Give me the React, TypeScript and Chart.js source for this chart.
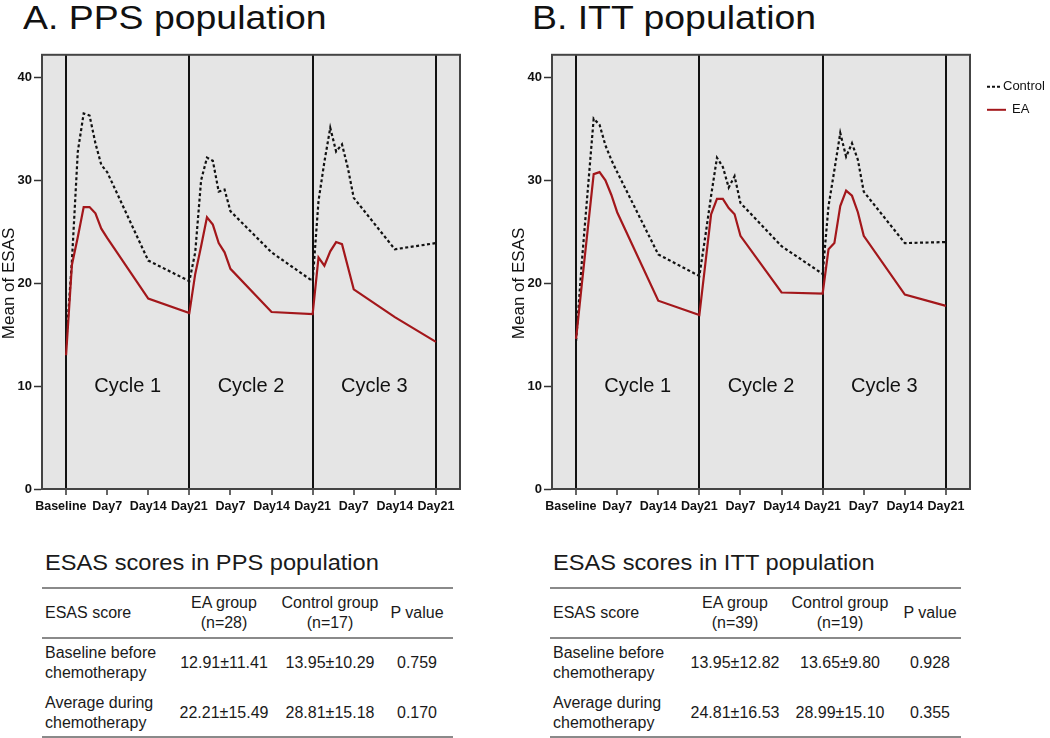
import React, { useEffect, useRef } from "react";
import { Chart, registerables } from "chart.js";
Chart.register(...registerables);

// ---------- data ----------
const days = [0, 1, 2, 3, 4, 5, 6, 7, 14, 21, 22, 23, 24, 25, 26, 27, 28, 35, 42, 43, 44, 45, 46, 47, 48, 49, 56, 63];
const xTickValues = [0, 7, 14, 21, 28, 35, 42, 49, 56, 63];
const xTickLabels = ["Baseline", "Day7", "Day14", "Day21", "Day7", "Day14", "Day21", "Day7", "Day14", "Day21"];
const yTickValues = [0, 10, 20, 30, 40];
const cycleBoundaries = [0, 21, 42, 63];
const cycleLabels = ["Cycle 1", "Cycle 2", "Cycle 3"];
const cycleCenters = [10.5, 31.5, 52.5];
const seriesNames = ["Control", "EA"];
const yTitle = "Mean of ESAS";

const ppsControl = [14.0, 22.2, 32.8, 36.5, 36.3, 33.6, 31.5, 30.8, 22.2, 20.2, 23.0, 30.0, 32.2, 31.9, 28.9, 29.1, 27.0, 23.0, 20.2, 28.0, 31.8, 35.1, 32.8, 33.5, 31.2, 28.3, 23.3, 23.9];
const ppsEA = [13.0, 21.8, 24.5, 27.4, 27.4, 26.8, 25.3, 24.4, 18.5, 17.1, 20.9, 23.6, 26.4, 25.7, 23.9, 23.0, 21.4, 17.2, 17.0, 22.5, 21.7, 23.1, 24.0, 23.8, 21.6, 19.4, 16.7, 14.3];
const ittControl = [14.4, 22.2, 29.1, 36.0, 35.4, 33.4, 32.0, 30.8, 22.8, 20.7, 24.5, 28.5, 32.2, 31.3, 29.3, 30.4, 27.8, 23.6, 20.9, 27.5, 31.0, 34.6, 32.3, 33.6, 32.0, 28.9, 23.9, 24.0];
const ittEA = [14.6, 20.0, 25.3, 30.6, 30.8, 30.0, 28.6, 26.9, 18.3, 16.9, 21.8, 26.7, 28.2, 28.2, 27.3, 26.7, 24.6, 19.1, 19.0, 23.3, 23.9, 27.5, 29.0, 28.5, 26.9, 24.6, 18.9, 17.8];

const tableHeader = ["ESAS score", "EA group", "Control group", "P value"];
const ppsN = ["(n=28)", "(n=17)"];
const ittN = ["(n=39)", "(n=19)"];
const rowLabels = [["Baseline before", "chemotherapy"], ["Average during", "chemotherapy"]];
const ppsRows = [["12.91±11.41", "13.95±10.29", "0.759"], ["22.21±15.49", "28.81±15.18", "0.170"]];
const ittRows = [["13.95±12.82", "13.65±9.80", "0.928"], ["24.81±16.53", "28.99±15.10", "0.355"]];

// ---------- styling ----------
const FONT = "Arial, 'Liberation Sans', Helvetica, sans-serif";
const RED = "#a3171b";
const PLOT_BG = "#e5e5e5";

const bgPlugin = {
  id: "bg",
  beforeDraw(chart: any) {
    const { ctx, chartArea: a } = chart;
    ctx.save();
    ctx.fillStyle = PLOT_BG;
    ctx.fillRect(a.left, a.top, a.right - a.left, a.bottom - a.top);
    ctx.restore();
  },
};

const framePlugin = {
  id: "frame",
  afterDraw(chart: any) {
    const { ctx, chartArea: a } = chart;
    ctx.save();
    ctx.strokeStyle = "#444";
    ctx.lineWidth = 2;
    ctx.strokeRect(a.left, a.top, a.right - a.left, a.bottom - a.top);
    // y-axis title
    ctx.fillStyle = "#111";
    ctx.font = `17px ${FONT}`;
    ctx.textAlign = "center";
    ctx.textBaseline = "middle";
    ctx.translate(9.5, (a.top + a.bottom) / 2 + 11.5);
    ctx.rotate(-Math.PI / 2);
    ctx.fillText(yTitle, 0, 0);
    ctx.restore();
  },
};

const cyclePlugin = {
  id: "cycles",
  afterDatasetsDraw(chart: any) {
    const { ctx, scales } = chart;
    ctx.save();
    ctx.fillStyle = "#111";
    ctx.font = `20px ${FONT}`;
    ctx.textAlign = "center";
    ctx.textBaseline = "middle";
    cycleLabels.forEach((t, i) => {
      ctx.fillText(t, scales.x.getPixelForValue(cycleCenters[i]), scales.y.getPixelForValue(10));
    });
    ctx.restore();
  },
};

const legendPlugin = {
  id: "customLegend",
  afterDraw(chart: any) {
    const { ctx, chartArea: a } = chart;
    const x0 = a.right + 17;
    ctx.save();
    ctx.font = `13px ${FONT}`;
    ctx.fillStyle = "#111";
    ctx.textBaseline = "middle";
    ctx.textAlign = "left";
    let y = a.top + 32;
    ctx.strokeStyle = "#111";
    ctx.lineWidth = 2;
    ctx.setLineDash([3, 2]);
    ctx.beginPath();
    ctx.moveTo(x0, y);
    ctx.lineTo(x0 + 13, y);
    ctx.stroke();
    ctx.setLineDash([]);
    ctx.fillText(seriesNames[0], x0 + 16, y);
    y = a.top + 55;
    ctx.strokeStyle = RED;
    ctx.beginPath();
    ctx.moveTo(x0, y);
    ctx.lineTo(x0 + 19, y);
    ctx.stroke();
    ctx.fillText(seriesNames[1], x0 + 25, y);
    ctx.restore();
  },
};

function LineChart({ control, ea, legend, width }: { control: number[]; ea: number[]; legend: boolean; width: number }) {
  const ref = useRef<HTMLCanvasElement | null>(null);
  useEffect(() => {
    if (!ref.current) return;
    const tickFont = { family: FONT, size: 12.5, weight: "bold" as const };
    const chart = new Chart(ref.current, {
      type: "line",
      data: {
        datasets: [
          {
            label: seriesNames[1],
            data: days.map((d, i) => ({ x: d, y: ea[i] })),
            borderColor: RED,
            borderWidth: 2.2,
            pointRadius: 0,
            tension: 0,
            fill: false,
          },
          {
            label: seriesNames[0],
            data: days.map((d, i) => ({ x: d, y: control[i] })),
            borderColor: "#111",
            borderWidth: 2.2,
            borderDash: [3, 2.5],
            pointRadius: 0,
            tension: 0,
            fill: false,
          },
        ],
      },
      options: {
        animation: false,
        responsive: false,
        maintainAspectRatio: false,
        layout: { padding: { top: 8, right: legend ? 80 : 10, bottom: 0, left: 0 } },
        plugins: { legend: { display: false }, tooltip: { enabled: false } },
        scales: {
          x: {
            type: "linear",
            min: -4.1,
            max: 67.1,
            afterBuildTicks: (s: any) => {
              s.ticks = xTickValues.map((v) => ({ value: v }));
            },
            afterFit: (s: any) => {
              s.height = 30;
            },
            ticks: {
              autoSkip: false,
              maxRotation: 0,
              minRotation: 0,
              padding: 4,
              color: "#111",
              font: tickFont,
              callback: (_v: any, i: number) => (i === 0 ? xTickLabels[i] + "   " : xTickLabels[i]),
            },
            grid: {
              drawOnChartArea: true,
              color: (c: any) => (c.tick && cycleBoundaries.includes(c.tick.value) ? "#111" : "rgba(0,0,0,0)"),
              lineWidth: 2,
              tickColor: "#333",
              tickLength: 6,
              tickWidth: 1.5,
            },
            border: { display: true, color: "#444", width: 2 },
          },
          y: {
            min: 0,
            max: 42.2,
            afterBuildTicks: (s: any) => {
              s.ticks = yTickValues.map((v) => ({ value: v }));
            },
            afterFit: (s: any) => {
              s.width = 42;
            },
            ticks: { padding: 2, color: "#111", font: { family: FONT, size: 13, weight: "bold" } },
            grid: { drawOnChartArea: false, drawTicks: true, tickLength: 8, tickColor: "#333", tickWidth: 1.5 },
            border: { display: true, color: "#444", width: 2 },
            title: { display: false },
          },
        },
      } as any,
      plugins: legend ? [bgPlugin, cyclePlugin, framePlugin, legendPlugin] : [bgPlugin, cyclePlugin, framePlugin],
    });
    return () => chart.destroy();
  }, []);
  return <canvas ref={ref} width={width} height={474} style={{ display: "block", width, height: 474 }} />;
}

function Txt({ x, y, text, align = "left", size = 16 }: { x: number; y: number; text: string; align?: string; size?: number }) {
  const lh = size + 4;
  return (
    <div
      style={{
        position: "absolute",
        left: x,
        top: y - lh / 2,
        lineHeight: `${lh}px`,
        fontSize: size,
        fontFamily: FONT,
        color: "#1a1a1a",
        whiteSpace: "nowrap",
        transform: align === "center" ? "translateX(-50%)" : undefined,
      }}
    >
      {text}
    </div>
  );
}

function Rule({ x1, x2, y }: { x1: number; x2: number; y: number }) {
  return <div style={{ position: "absolute", left: x1, top: y - 1, width: x2 - x1, height: 2, background: "#8a8a8a" }} />;
}

function ScoreTable({ ox, title, n, rows, cols }: { ox: number; title: string; n: string[]; rows: string[][]; cols: number[] }) {
  return (
    <>
      <div
        style={{
          position: "absolute",
          left: ox + 45,
          top: 571.5 - 0.8465 * 21.5,
          fontSize: 21.5,
          lineHeight: "21.5px",
          fontFamily: FONT,
          color: "#1a1a1a",
          whiteSpace: "nowrap",
          transform: "scaleX(1.1)",
          transformOrigin: "left top",
        }}
      >
        {title}
      </div>
      <Rule x1={ox + 42} x2={ox + 453} y={588} />
      <Txt x={ox + 45} y={613} text={tableHeader[0]} />
      <Txt x={cols[0]} y={603} text={tableHeader[1]} align="center" />
      <Txt x={cols[0]} y={623} text={n[0]} align="center" />
      <Txt x={cols[1]} y={603} text={tableHeader[2]} align="center" />
      <Txt x={cols[1]} y={623} text={n[1]} align="center" />
      <Txt x={cols[2]} y={613} text={tableHeader[3]} align="center" />
      <Rule x1={ox + 42} x2={ox + 453} y={638} />
      {rows.map((r, i) => {
        const cy = 663 + i * 50;
        return (
          <React.Fragment key={i}>
            <Txt x={ox + 45} y={cy - 10} text={rowLabels[i][0]} />
            <Txt x={ox + 45} y={cy + 10} text={rowLabels[i][1]} />
            {r.map((v, j) => (
              <Txt key={j} x={cols[j]} y={cy} text={v} align="center" />
            ))}
          </React.Fragment>
        );
      })}
      <Rule x1={ox + 42} x2={ox + 453} y={737} />
    </>
  );
}

function Heading({ x, text }: { x: number; text: string }) {
  return (
    <div
      style={{
        position: "absolute",
        left: x,
        top: 28.3 - 0.8465 * 34,
        fontSize: 34,
        lineHeight: "34px",
        fontFamily: FONT,
        color: "#111",
        whiteSpace: "nowrap",
        transform: "scaleX(1.1)",
        transformOrigin: "left top",
      }}
    >
      {text}
    </div>
  );
}

export default function App() {
  return (
    <div style={{ position: "absolute", left: 0, top: 0, width: 1050, height: 738, background: "#fff", overflow: "hidden" }}>
      <Heading x={23} text="A. PPS population" />
      <Heading x={532} text="B. ITT population" />
      <div style={{ position: "absolute", left: 0, top: 45 }}>
        <LineChart control={ppsControl} ea={ppsEA} legend={false} width={470} />
      </div>
      <div style={{ position: "absolute", left: 510, top: 45 }}>
        <LineChart control={ittControl} ea={ittEA} legend={true} width={540} />
      </div>
      <ScoreTable ox={0} title="ESAS scores in PPS population" n={ppsN} rows={ppsRows} cols={[224, 330, 417]} />
      <ScoreTable ox={508} title="ESAS scores in ITT population" n={ittN} rows={ittRows} cols={[735, 840, 930]} />
    </div>
  );
}
